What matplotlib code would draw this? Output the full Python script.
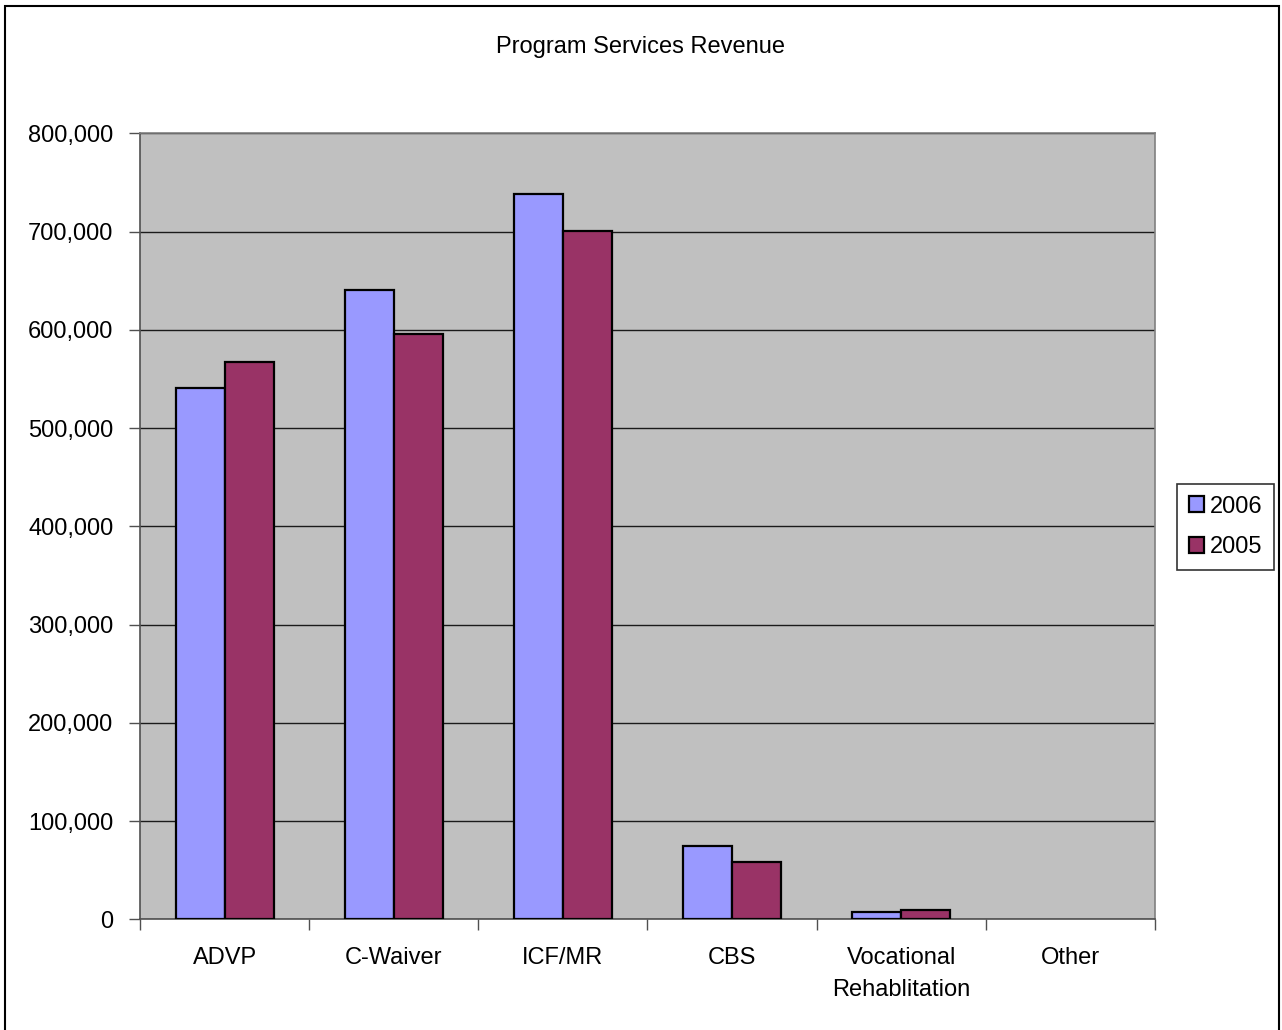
import matplotlib.pyplot as plt
import matplotlib.patches as mpatches
import numpy as np

plt.rcParams['font.family'] = ['Liberation Sans', 'DejaVu Sans']

# data
categories = ['ADVP', 'C-Waiver', 'ICF/MR', 'CBS', 'Vocational\nRehablitation', 'Other']
rev_2006 = [541000, 640000, 738000, 75000, 7700, 0]
rev_2005 = [567000, 596000, 701000, 58000, 9500, 0]
years = ['2006', '2005']
colors = ['#9999FF', '#993366']

fs = 17

fig = plt.figure(figsize=(12.82, 10.30), dpi=100)
ax = fig.add_axes([0.1092, 0.1075, 0.7917, 0.7631])

x = np.arange(len(categories)) + 0.5
barWidth = 0.29
# empty bars get no outline, like in Excel
lw06 = [1.6 if v > 0 else 0 for v in rev_2006]
lw05 = [1.6 if v > 0 else 0 for v in rev_2005]
ax.bar(x - barWidth / 2, rev_2006, barWidth, color=colors[0], edgecolor='black',
       linewidth=lw06, label=years[0], zorder=3)
ax.bar(x + barWidth / 2, rev_2005, barWidth, color=colors[1], edgecolor='black',
       linewidth=lw05, label=years[1], zorder=3)

ax.set_facecolor('#C0C0C0')
ax.set_xlim(0, len(categories))
ax.set_ylim(0, 800000)
ax.set_yticks(np.arange(0, 800001, 100000))
ax.set_yticklabels(['{:,}'.format(v) for v in range(0, 800001, 100000)])
ax.yaxis.grid(True, color='#1a1a1a', linewidth=1.0, zorder=1)
ax.set_axisbelow(True)

# category ticks sit between groups, labels in the middle
ax.set_xticks(np.arange(len(categories) + 1))
ax.set_xticklabels([])
ax.set_xticks(x, minor=True)
ax.set_xticklabels(categories, minor=True, fontsize=fs, linespacing=1.6)
ax.tick_params(axis='x', which='minor', length=0, pad=20)
ax.tick_params(axis='x', which='major', length=8, width=1, color='#505050')
ax.tick_params(axis='y', length=8, width=1, color='#505050', labelsize=fs, pad=11)

for side in ['top', 'right']:
    ax.spines[side].set_color('#808080')
    ax.spines[side].set_linewidth(1.2)
for side in ['left', 'bottom']:
    ax.spines[side].set_color('#505050')
    ax.spines[side].set_linewidth(1.2)

fig.text(0.5, 0.954, 'Program Services Revenue', ha='center', va='center', fontsize=fs)

leg = fig.legend(loc='center left', bbox_to_anchor=(0.918, 0.4883), fontsize=fs,
                 frameon=True, fancybox=False, edgecolor='black', handlelength=0.65,
                 handleheight=0.65, handletextpad=0.25, labelspacing=0.8,
                 borderpad=0.5, borderaxespad=0)
leg.get_frame().set_linewidth(1.2)

# outer chart border (bottom runs off the page)
fig.patches.append(mpatches.Rectangle((5 / 1282, -0.01), 1274 / 1282, 1.004,
                                      transform=fig.transFigure, fill=False,
                                      edgecolor='black', linewidth=1.5))

fig.savefig('out.png', dpi=100)
